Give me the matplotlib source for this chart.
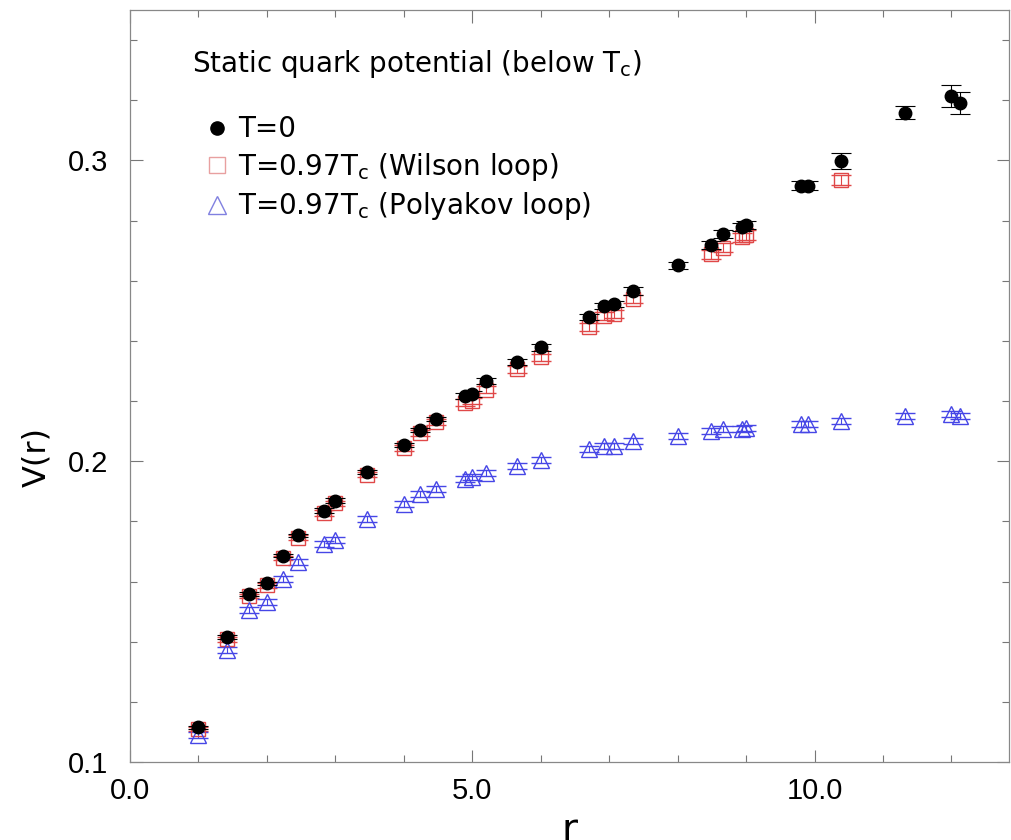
import matplotlib
matplotlib.use("Agg")
import matplotlib.pyplot as plt
from matplotlib.lines import Line2D
from matplotlib.ticker import MultipleLocator, FormatStrFormatter

plt.rcParams['font.family'] = ['DejaVu Sans']
plt.rcParams['mathtext.fontset'] = 'dejavusans'

# ---- data ----
r_t0 = [1.0, 1.414, 1.732, 2.0, 2.236, 2.449, 2.828, 3.0, 3.464, 4.0, 4.243, 4.472,
        4.899, 5.0, 5.196, 5.657, 6.0, 6.708, 6.928, 7.071, 7.348, 8.0, 8.485, 8.660,
        8.944, 9.0, 9.798, 9.899, 10.392, 11.314, 12.0, 12.124]
v_t0 = [0.1115, 0.1415, 0.1559, 0.1594, 0.1686, 0.1753, 0.1836, 0.1869, 0.1963, 0.2054,
        0.2104, 0.2140, 0.2217, 0.2223, 0.2267, 0.2331, 0.2378, 0.2480, 0.2516, 0.2522,
        0.2566, 0.2651, 0.2719, 0.2756, 0.2778, 0.2785, 0.2915, 0.2915, 0.2998, 0.3158,
        0.3214, 0.3191]
e_t0 = [0.0006, 0.0006, 0.0006, 0.0006, 0.0006, 0.0006, 0.0007, 0.0007, 0.0007, 0.0008,
        0.0008, 0.0008, 0.0009, 0.0009, 0.0009, 0.0010, 0.0010, 0.0011, 0.0011, 0.0011,
        0.0012, 0.0012, 0.0013, 0.0013, 0.0013, 0.0013, 0.0015, 0.0015, 0.0026, 0.0022,
        0.0036, 0.0037]

r_wl = [1.0, 1.414, 1.732, 2.0, 2.236, 2.449, 2.828, 3.0, 3.464, 4.0, 4.243, 4.472,
        4.899, 5.0, 5.196, 5.657, 6.0, 6.708, 6.928, 7.071, 7.348, 8.485, 8.660,
        8.944, 9.0, 10.392]
v_wl = [0.1110, 0.1408, 0.1552, 0.1588, 0.1678, 0.1745, 0.1828, 0.1860, 0.1955, 0.2044,
        0.2094, 0.2130, 0.2195, 0.2200, 0.2238, 0.2306, 0.2345, 0.2447, 0.2483, 0.2490,
        0.2540, 0.2688, 0.2710, 0.2745, 0.2752, 0.2935]
e_wl = [0.0008, 0.0008, 0.0008, 0.0008, 0.0008, 0.0008, 0.0009, 0.0009, 0.0009, 0.0010,
        0.0010, 0.0010, 0.0011, 0.0011, 0.0011, 0.0012, 0.0012, 0.0013, 0.0013, 0.0013,
        0.0014, 0.0015, 0.0015, 0.0015, 0.0015, 0.0016]

r_pl = [1.0, 1.414, 1.732, 2.0, 2.236, 2.449, 2.828, 3.0, 3.464, 4.0, 4.243, 4.472,
        4.899, 5.0, 5.196, 5.657, 6.0, 6.708, 6.928, 7.071, 7.348, 8.0, 8.485, 8.660,
        8.944, 9.0, 9.798, 9.899, 10.392, 11.314, 12.0, 12.124]
v_pl = [0.1090, 0.1371, 0.1504, 0.1531, 0.1609, 0.1664, 0.1725, 0.1738, 0.1808, 0.1858,
        0.1891, 0.1908, 0.1940, 0.1946, 0.1960, 0.1985, 0.2004, 0.2040, 0.2051, 0.2051,
        0.2066, 0.2085, 0.2101, 0.2107, 0.2107, 0.2112, 0.2124, 0.2124, 0.2134, 0.2151,
        0.2157, 0.2151]
e_pl = [0.0010] * len(r_pl)

title_text = r"Static quark potential (below T$_{\mathrm{c}}$)"
labels = [r"T=0", r"T=0.97T$_{\mathrm{c}}$ (Wilson loop)", r"T=0.97T$_{\mathrm{c}}$ (Polyakov loop)"]
x_ticks = [0.0, 5.0, 10.0]
y_ticks = [0.1, 0.2, 0.3]

# ---- figure ----
fig = plt.figure(figsize=(10.11, 8.40), dpi=100)
ax = fig.add_axes([130/1011, 1 - 762/840, 879/1011, 752/840])

red = '#e04848'
blue = '#4646e6'

ax.errorbar(r_wl, v_wl, yerr=e_wl, fmt='s', mfc='none', mec=red, mew=1.0, ms=10,
            ecolor=red, elinewidth=0.8, capsize=7, capthick=0.8, zorder=2)
ax.errorbar(r_pl, v_pl, yerr=e_pl, fmt='^', mfc='none', mec=blue, mew=1.0, ms=12,
            ecolor=blue, elinewidth=0.8, capsize=7, capthick=0.8, zorder=2)
ax.errorbar(r_t0, v_t0, yerr=e_t0, fmt='o', color='black', ms=9,
            ecolor='black', elinewidth=0.8, capsize=7, capthick=0.8, zorder=3)

ax.set_xlim(0, 12.84)
ax.set_ylim(0.1, 0.35)
ax.xaxis.set_major_locator(MultipleLocator(5))
ax.xaxis.set_minor_locator(MultipleLocator(1))
ax.yaxis.set_major_locator(MultipleLocator(0.1))
ax.yaxis.set_minor_locator(MultipleLocator(0.02))
ax.set_xticks(x_ticks)
ax.set_yticks(y_ticks)
ax.xaxis.set_major_formatter(FormatStrFormatter('%.1f'))
ax.yaxis.set_major_formatter(FormatStrFormatter('%.1f'))
ax.tick_params(which='both', direction='in', top=True, right=True, color='#777777',
               labelsize=21, width=0.8, labelfontfamily='Liberation Sans')
ax.tick_params(which='major', length=9)
ax.tick_params(which='minor', length=5)
ax.tick_params(axis='x', which='major', pad=11)
ax.tick_params(axis='y', which='major', pad=16)
for s in ax.spines.values():
    s.set_color('#888888')
    s.set_linewidth(0.9)

ax.set_ylabel('V(r)', fontsize=23)
ax.yaxis.set_label_coords(-0.089, 0.405)
ax.set_xlabel('r', fontsize=28, labelpad=4)

ax.text(0.070, 0.928, title_text, transform=ax.transAxes, fontsize=20,
        ha='left', va='center')

handles = [
    Line2D([], [], ls='none', marker='o', color='black', ms=9.5),
    Line2D([], [], ls='none', marker='s', mfc='none', mec='#e8a0a0', mew=1.0, ms=11.5),
    Line2D([], [], ls='none', marker='^', mfc='none', mec='#8080e0', mew=1.0, ms=13),
]
ax.legend(handles, labels, loc='upper left', bbox_to_anchor=(0.0796, 0.860),
          frameon=False, fontsize=20, handlelength=1.2, handletextpad=0.18,
          labelspacing=0.27, borderaxespad=0, borderpad=0)

fig.savefig('out.png', dpi=100)
